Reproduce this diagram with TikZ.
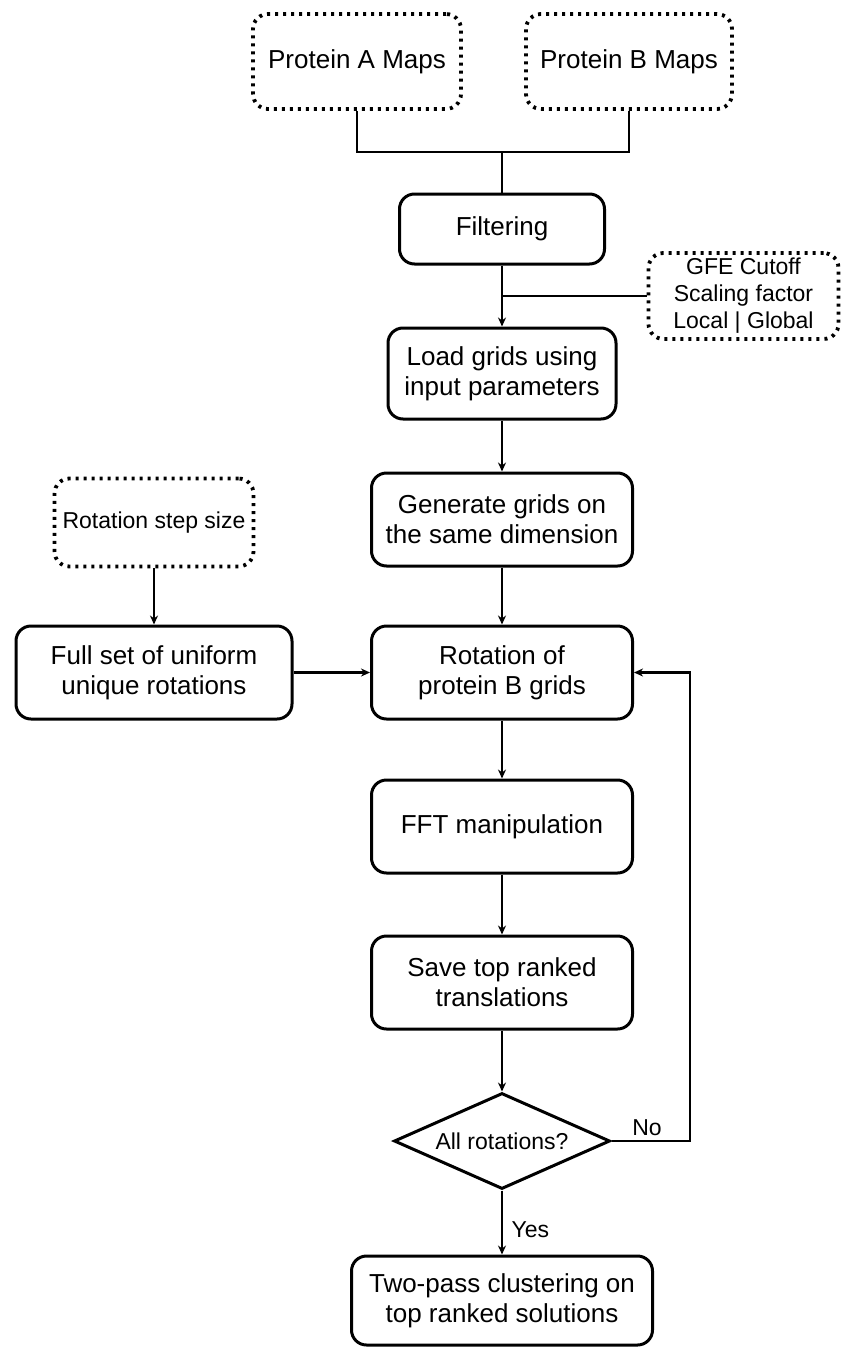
\documentclass[tikz,border=0pt]{standalone}
\usepackage{fontspec}
\setmainfont{Liberation Sans}
\usetikzlibrary{shapes.geometric,arrows.meta}

\begin{document}
\begin{tikzpicture}[x=1pt,y=-1pt,
  stepbox/.style={draw,line width=3pt,rounded corners=15pt,align=center,inner sep=0pt,font=\fontsize{26}{30}\selectfont},
  inputbox/.style={draw,line width=3.8pt,dash pattern=on 3pt off 5pt,rounded corners=15pt,align=center,inner sep=0pt},
  flow/.style={line width=2.8pt,-{Stealth[length=9pt,width=8pt]}},
  link/.style={line width=2.8pt},
  tag/.style={font=\fontsize{23}{27}\selectfont}]
\useasboundingbox (0,0) rectangle (842,1349);
\node[inputbox,font=\fontsize{26}{30}\selectfont,minimum width=208pt,minimum height=95pt] (mapA) at (357,61.5) {Protein A Maps};
\node[inputbox,font=\fontsize{26}{30}\selectfont,minimum width=206pt,minimum height=95pt] (mapB) at (629,61.5) {Protein B Maps};
\node[stepbox,minimum width=205pt,minimum height=70pt] (filter) at (502,229) {Filtering};
\node[inputbox,font=\fontsize{23}{27}\selectfont,minimum width=190pt,minimum height=86pt] (params) at (743.5,296) {GFE Cutoff\\Scaling factor\\Local | Global};
\node[stepbox,minimum width=228pt,minimum height=91pt] (load) at (502,373.5) {Load grids using\\input parameters};
\node[stepbox,minimum width=261pt,minimum height=93pt] (generate) at (502,519.5) {Generate grids on\\the same dimension};
\node[inputbox,font=\fontsize{23}{27}\selectfont,minimum width=199pt,minimum height=88pt] (stepsize) at (154,522.5) {Rotation step size};
\node[stepbox,minimum width=276pt,minimum height=93pt] (uniform) at (154,672.5) {Full set of uniform\\unique rotations};
\node[stepbox,minimum width=261pt,minimum height=93pt] (rotate) at (502,672.5) {Rotation of\\protein B grids};
\node[stepbox,minimum width=261pt,minimum height=93pt] (fft) at (502,826.5) {FFT manipulation};
\node[stepbox,minimum width=261pt,minimum height=93pt] (save) at (502,982.5) {Save top ranked\\translations};
\node[draw,line width=3pt,diamond,aspect=2.2,inner sep=0pt,minimum width=216pt,minimum height=96pt,tag] (check) at (502,1141) {All rotations?};
\node[stepbox,minimum width=301pt,minimum height=89pt] (cluster) at (502,1300.5) {Two-pass clustering on\\top ranked solutions};
\node[tag] (no) at (647,1128) {No};
\node[tag,anchor=west] (yes) at (508,1230) {Yes};
\coordinate (join) at (502,152);
\coordinate (tap) at (502,296);
\coordinate (back) at (690,1141);
\draw[link] (mapA.south) |- (join) -| (mapB.south);
\draw[link] (join) -- (filter.north);
\draw[flow] (filter.south) -- (load.north);
\draw[link] (params.west) -- (tap);
\draw[flow] (load.south) -- (generate.north);
\draw[flow] (generate.south) -- (rotate.north);
\draw[flow] (stepsize.south) -- (uniform.north);
\draw[flow] (uniform.east) -- (rotate.west);
\draw[flow] (rotate.south) -- (fft.north);
\draw[flow] (fft.south) -- (save.north);
\draw[flow] (save.south) -- (check.north);
\draw[flow] (check.south) -- (cluster.north);
\draw[flow] (check.east) -- (back) |- (rotate.east);
\end{tikzpicture}
\end{document}
